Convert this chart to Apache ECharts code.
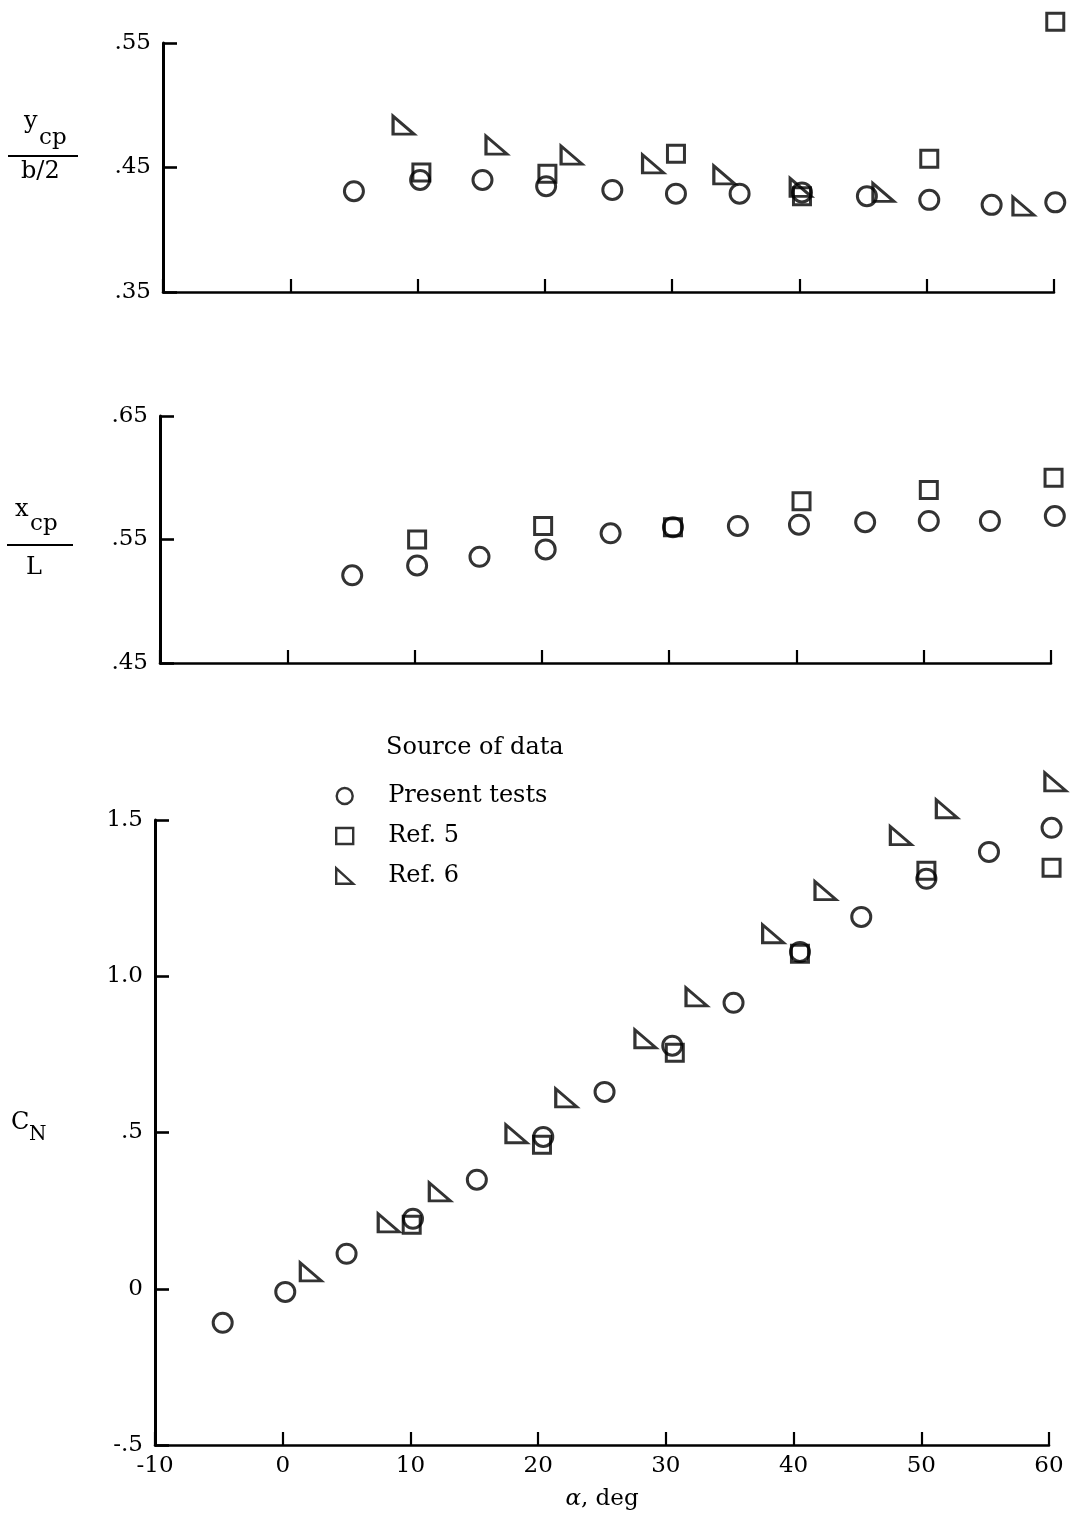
<!DOCTYPE html>
<html>
<head>
<meta charset="utf-8">
<script src="https://cdn.jsdelivr.net/npm/echarts@6/dist/echarts.min.js"></script>
<style>html,body{margin:0;padding:0;background:#fff;}#c{width:1076px;height:1521px;}</style>
</head>
<body>
<div id="c"></div>
<script>
// ---- data (alpha, value) ----
const xTicks = [-10, 0, 10, 20, 30, 40, 50, 60];
const yTopTicks = [0.35, 0.45, 0.55];
const yMidTicks = [0.45, 0.55, 0.65];
const yBotTicks = [-0.5, 0, 0.5, 1.0, 1.5];
const seriesNames = ['Present tests', 'Ref. 5', 'Ref. 6'];

// y_cp / (b/2)
const ycpPresent = [[5.0,0.431],[10.2,0.440],[15.1,0.440],[20.1,0.435],[25.3,0.432],[30.3,0.429],[35.3,0.429],[40.2,0.430],[45.3,0.427],[50.2,0.424],[55.1,0.420],[60.1,0.422]];
const ycpRef5 = [[10.3,0.446],[20.2,0.445],[30.3,0.461],[40.2,0.427],[50.2,0.457],[60.1,0.567]];
const ycpRef6 = [[8.9,0.484],[16.2,0.468],[22.1,0.460],[28.5,0.453],[34.1,0.444],[40.1,0.434],[46.6,0.430],[57.6,0.419]];

// x_cp / L
const xcpPresent = [[5.1,0.521],[10.2,0.529],[15.1,0.536],[20.3,0.542],[25.4,0.555],[30.3,0.560],[35.4,0.561],[40.2,0.562],[45.4,0.564],[50.4,0.565],[55.2,0.565],[60.3,0.569]];
const xcpRef5 = [[10.2,0.550],[20.1,0.561],[30.3,0.560],[40.4,0.581],[50.4,0.590],[60.2,0.600]];

// C_N
const cnPresent = [[-4.7,-0.109],[0.2,-0.010],[5.0,0.112],[10.2,0.224],[15.2,0.349],[20.4,0.486],[25.2,0.630],[30.5,0.778],[35.3,0.915],[40.5,1.078],[45.3,1.190],[50.4,1.312],[55.3,1.398],[60.2,1.475]];
const cnRef5 = [[10.1,0.205],[20.3,0.461],[30.7,0.755],[40.5,1.072],[50.4,1.338],[60.2,1.347]];
const cnRef6 = [[2.2,0.054],[8.3,0.211],[12.3,0.310],[18.3,0.496],[22.2,0.611],[28.4,0.800],[32.4,0.934],[38.4,1.136],[42.5,1.274],[48.4,1.450],[52.0,1.536],[60.5,1.622]];

// ---- styling ----
const FONT = 'DejaVu Serif';
const BLACK = '#000';
const TRI = 'path://M0,0 L0,10 L11,10 Z';
const symbolFor = {
  'Present tests': {symbol: 'circle', symbolSize: 19},
  'Ref. 5': {symbol: 'rect', symbolSize: 17},
  'Ref. 6': {symbol: TRI, symbolSize: [21, 18]}
};
function fmt(v) {
  if (Math.abs(v) < 1e-9) return '0';
  let s = (Math.abs(v) >= 1) ? v.toFixed(1) : v.toFixed(2).replace(/0$/, '');
  s = s.replace(/^0\./, '.').replace(/^-0\./, '-.');
  return s;
}
function xAxis(gi, labels) {
  return {
    type: 'value', gridIndex: gi, min: xTicks[0], max: xTicks[xTicks.length - 1], interval: 10,
    axisLine: {show: true, onZero: false, lineStyle: {color: BLACK, width: 2.6}},
    axisTick: {show: true, inside: true, length: 13, lineStyle: {color: BLACK, width: 2.2}},
    splitLine: {show: false},
    axisLabel: {show: labels, color: BLACK, fontFamily: FONT, fontSize: 23, margin: 10},
    name: labels ? '{a|α}, deg' : '',
    nameLocation: 'middle', nameGap: 43,
    nameTextStyle: {color: BLACK, fontFamily: FONT, fontSize: 23,
      rich: {a: {fontStyle: 'italic', fontFamily: FONT, fontSize: 23, color: BLACK}}}
  };
}
function yAxis(gi, ticks) {
  return {
    type: 'value', gridIndex: gi, min: ticks[0], max: ticks[ticks.length - 1],
    axisLine: {show: true, onZero: false, lineStyle: {color: BLACK, width: 3}},
    axisTick: {show: true, inside: true, length: 14, customValues: ticks, lineStyle: {color: BLACK, width: 2.6}},
    axisLabel: {show: true, customValues: ticks, color: BLACK, fontFamily: FONT, fontSize: 23, margin: 12, formatter: fmt},
    splitLine: {show: false}
  };
}
function sc(name, gi, data) {
  const s = symbolFor[name];
  return {
    name: name, type: 'scatter', xAxisIndex: gi, yAxisIndex: gi, data: data,
    symbol: s.symbol, symbolSize: s.symbolSize, clip: false, silent: true,
    itemStyle: {color: 'rgba(0,0,0,0)', borderColor: BLACK, borderWidth: 3},
    emphasis: {disabled: true}
  };
}

const chart = echarts.init(document.getElementById('c'), null, {renderer: 'canvas'});
chart.setOption({
  backgroundColor: '#fff',
  animation: false,
  grid: [
    {left: 163, right: 22, top: 43, height: 249},
    {left: 160, right: 25, top: 416, height: 247},
    {left: 155, right: 27, top: 820, height: 625}
  ],
  xAxis: [xAxis(0, false), xAxis(1, false), xAxis(2, true)],
  yAxis: [yAxis(0, yTopTicks), yAxis(1, yMidTicks), yAxis(2, yBotTicks)],
  legend: {
    data: seriesNames, orient: 'vertical', left: 330, top: 779,
    itemWidth: 17, itemHeight: 16, itemGap: 16, selectedMode: false,
    itemStyle: {borderWidth: 2.4},
    textStyle: {color: BLACK, fontFamily: FONT, fontSize: 24, padding: [0, 0, 0, 30]}
  },
  series: [
    sc('Present tests', 0, ycpPresent), sc('Ref. 5', 0, ycpRef5), sc('Ref. 6', 0, ycpRef6),
    sc('Present tests', 1, xcpPresent), sc('Ref. 5', 1, xcpRef5),
    sc('Present tests', 2, cnPresent), sc('Ref. 5', 2, cnRef5), sc('Ref. 6', 2, cnRef6)
  ],
  graphic: [
    {type: 'text', left: 386, top: 736, style: {text: 'Source of data', font: '24px "DejaVu Serif"', fill: BLACK}},
    // y_cp / (b/2)
    {type: 'text', left: 24, top: 110, style: {text: 'y', font: '24px "DejaVu Serif"', fill: BLACK}},
    {type: 'text', left: 39, top: 127, style: {text: 'cp', font: '23px "DejaVu Serif"', fill: BLACK}},
    {type: 'line', shape: {x1: 8, y1: 156, x2: 78, y2: 156}, style: {stroke: BLACK, lineWidth: 2}},
    {type: 'text', left: 21, top: 160, style: {text: 'b/2', font: '24px "DejaVu Serif"', fill: BLACK}},
    // x_cp / L
    {type: 'text', left: 15, top: 498, style: {text: 'x', font: '24px "DejaVu Serif"', fill: BLACK}},
    {type: 'text', left: 30, top: 513, style: {text: 'cp', font: '23px "DejaVu Serif"', fill: BLACK}},
    {type: 'line', shape: {x1: 7, y1: 545, x2: 73, y2: 545}, style: {stroke: BLACK, lineWidth: 2}},
    {type: 'text', left: 26, top: 556, style: {text: 'L', font: '24px "DejaVu Serif"', fill: BLACK}},
    // C_N
    {type: 'text', left: 11, top: 1111, style: {text: 'C', font: '24px "DejaVu Serif"', fill: BLACK}},
    {type: 'text', left: 29, top: 1125, style: {text: 'N', font: '20px "DejaVu Serif"', fill: BLACK}}
  ]
});
</script>
</body>
</html>
